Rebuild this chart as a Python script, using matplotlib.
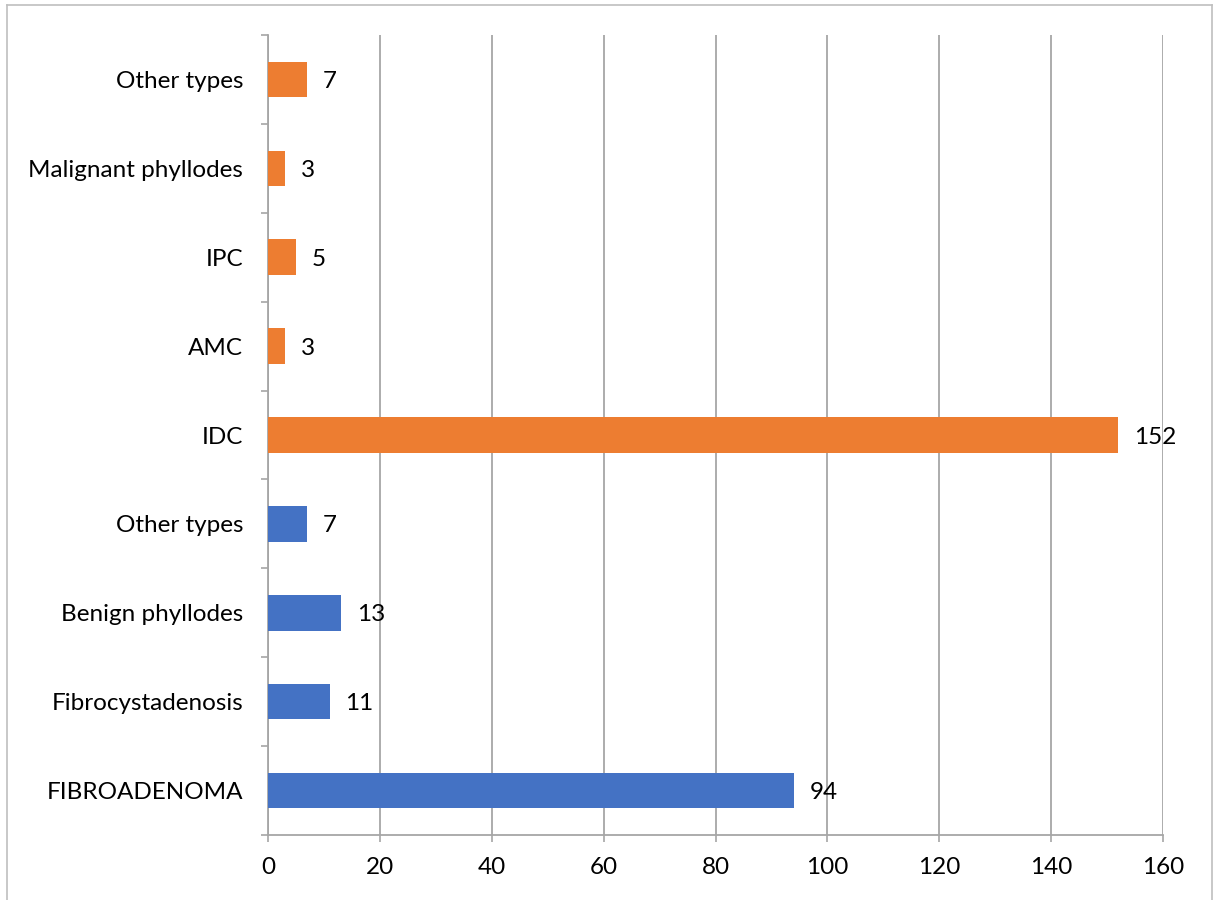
import matplotlib.pyplot as plt
from matplotlib.lines import Line2D
import numpy as np

plt.rcParams["font.family"] = ["Lato", "DejaVu Sans"]

# categories bottom to top
categories = ["FIBROADENOMA", "Fibrocystadenosis", "Benign phyllodes", "Other types",
              "IDC", "AMC", "IPC", "Malignant phyllodes", "Other types"]
counts = [94, 11, 13, 7, 152, 3, 5, 3, 7]
groups = ["benign", "benign", "benign", "benign",
          "malignant", "malignant", "malignant", "malignant", "malignant"]
x_ticks = [0, 20, 40, 60, 80, 100, 120, 140, 160]

group_colors = {"benign": "#4472C4", "malignant": "#ED7D31"}
grid_color = "#A6A6A6"
fs = 17.5

fig = plt.figure(figsize=(12.19, 9), dpi=100)
ax = fig.add_axes([268 / 1219, 1 - 835 / 900, (1163 - 268) / 1219, 800 / 900])

# outer chart border
for xs, ys in [([7 / 1219, 7 / 1219], [0, 1 - 5 / 900]),
               ([7 / 1219, 1212 / 1219], [1 - 5 / 900, 1 - 5 / 900]),
               ([1212 / 1219, 1212 / 1219], [1 - 5 / 900, 0])]:
    fig.add_artist(Line2D(xs, ys, transform=fig.transFigure, color="#BFBFBF", linewidth=1.2))

ypos = np.arange(len(categories))
colors = [group_colors[g] for g in groups]
ax.barh(ypos, counts, height=0.4, color=colors, zorder=3)

for y, v in zip(ypos, counts):
    ax.annotate(str(v), (v, y), xytext=(11.5, -1.5), textcoords="offset points",
                va="center", ha="left", fontsize=fs, zorder=4)

ax.set_xlim(0, 160)
ax.set_ylim(-0.5, len(categories) - 0.5)
ax.set_xticks(x_ticks)
ax.set_xticklabels([str(t) for t in x_ticks], fontsize=fs)
ax.set_yticks(ypos)
ax.set_yticklabels(categories, fontsize=fs)
ax.set_yticks(np.arange(-0.5, len(categories)), minor=True)

ax.grid(axis="x", color=grid_color, linewidth=1.3, zorder=0)
ax.tick_params(axis="y", which="major", length=0, pad=18)
ax.tick_params(axis="y", which="minor", length=5, color=grid_color, width=1.2)
ax.tick_params(axis="x", length=5, color=grid_color, width=1.2, pad=11)

for side in ["top", "right"]:
    ax.spines[side].set_visible(False)
for side in ["left", "bottom"]:
    ax.spines[side].set_color(grid_color)
    ax.spines[side].set_linewidth(1.3)

fig.savefig("out.png", dpi=100)
